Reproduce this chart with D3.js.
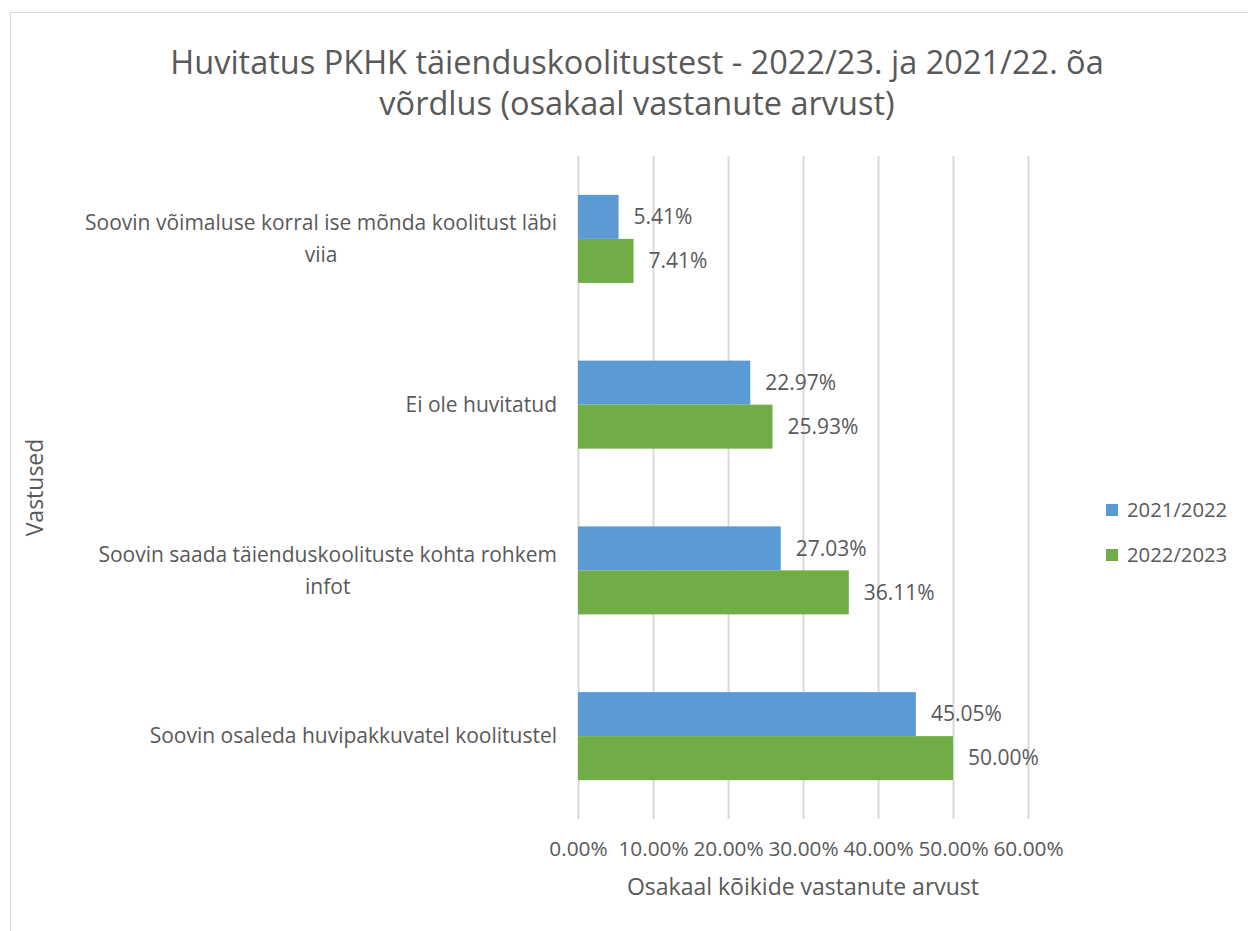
<!DOCTYPE html>
<html>
<head>
<meta charset="utf-8">
<script src="https://cdn.jsdelivr.net/npm/d3@7"></script>
<style>
  body { margin: 0; background: #fff; }
  text { font-family: "Open Sans", sans-serif; fill: #595959; }
</style>
</head>
<body>
<script>
// data
var categories = [
    "Soovin võimaluse korral ise mõnda koolitust läbi viia",
    "Ei ole huvitatud",
    "Soovin saada täienduskoolituste kohta rohkem infot",
    "Soovin osaleda huvipakkuvatel koolitustel"
];
var seriesNames = ["2021/2022", "2022/2023"];
var values2122 = [5.41, 22.97, 27.03, 45.05];
var values2223 = [7.41, 25.93, 36.11, 50.00];
var xTicks = [0, 10, 20, 30, 40, 50, 60];
var colors = ["#5b9bd5", "#70ad47"];

var titleLines = ["Huvitatus PKHK täienduskoolitustest - 2022/23. ja 2021/22. õa", "võrdlus (osakaal vastanute arvust)"];
var xTitle = "Osakaal kõikide vastanute arvust";
var yTitle = "Vastused";

var W = 1248, H = 931;
var plot = { left: 578, right: 1028, top: 156, bottom: 819 };

var svg = d3.select("body").append("svg")
    .attr("width", W)
    .attr("height", H);

// chart border
svg.append("rect")
    .attr("x", 10.5).attr("y", 12.5)
    .attr("width", W).attr("height", H)
    .attr("fill", "none")
    .attr("stroke", "#d9d9d9");

// title
svg.append("text")
    .attr("x", 637).attr("y", 74)
    .attr("text-anchor", "middle")
    .style("font-size", "32.5px")
    .selectAll("tspan")
    .data(titleLines)
    .enter().append("tspan")
    .attr("x", 637)
    .attr("dy", function (d, i) { return i ? 41 : 0; })
    .text(function (d) { return d; });

var xScale = d3.scaleLinear()
    .domain([0, 60])
    .range([plot.left, plot.right]);

var yScale = d3.scaleBand()
    .domain(categories)
    .range([plot.top, plot.bottom])
    .paddingInner(0.469)
    .paddingOuter(0.2345);

var sub = d3.scaleBand()
    .domain(seriesNames)
    .range([0, yScale.bandwidth()]);

// gridlines
svg.append("g")
    .selectAll("line")
    .data(xTicks)
    .enter().append("line")
    .attr("x1", function (d) { return xScale(d) + 0.5; })
    .attr("x2", function (d) { return xScale(d) + 0.5; })
    .attr("y1", plot.top)
    .attr("y2", plot.bottom)
    .attr("stroke", "#d9d9d9")
    .attr("stroke-width", 2);

// x axis tick labels
var xAxis = svg.append("g")
    .attr("transform", "translate(0," + (plot.bottom + 22) + ")")
    .call(d3.axisBottom(xScale).tickValues(xTicks).tickSize(0).tickPadding(0)
        .tickFormat(function (d) { return d.toFixed(2) + "%"; }));
xAxis.select(".domain").remove();
xAxis.selectAll("text")
    .attr("fill", "#595959")
    .style("font-family", "'Open Sans', sans-serif")
    .style("font-size", "20.8px");

// bars
var rows = categories.map(function (c, i) {
    return [
        { cat: c, s: seriesNames[0], v: values2122[i], color: colors[0] },
        { cat: c, s: seriesNames[1], v: values2223[i], color: colors[1] }
    ];
});

var groups = svg.append("g")
    .selectAll("g")
    .data(rows)
    .enter().append("g")
    .attr("transform", function (d) { return "translate(0," + yScale(d[0].cat) + ")"; });

groups.selectAll("rect")
    .data(function (d) { return d; })
    .enter().append("rect")
    .attr("x", xScale(0))
    .attr("y", function (d) { return sub(d.s); })
    .attr("width", function (d) { return xScale(d.v) - xScale(0); })
    .attr("height", sub.bandwidth())
    .attr("fill", function (d) { return d.color; });

groups.selectAll("text")
    .data(function (d) { return d; })
    .enter().append("text")
    .attr("x", function (d) { return xScale(d.v) + 15; })
    .attr("y", function (d) { return sub(d.s) + sub.bandwidth() / 2; })
    .attr("dy", "0.35em")
    .style("font-size", "21px")
    .text(function (d) { return d.v.toFixed(2) + "%"; });

// category labels, wrapped
var labelRight = plot.left - 21;
var maxLabel = 490;
categories.forEach(function (c) {
    var t = svg.append("text")
        .attr("text-anchor", "middle")
        .style("font-size", "21px");
    var words = c.split(" "), lines = [], cur = [];
    var probe = t.append("tspan");
    words.forEach(function (w) {
        cur.push(w);
        probe.text(cur.join(" "));
        if (probe.node().getComputedTextLength() > maxLabel && cur.length > 1) {
            cur.pop();
            lines.push(cur.join(" "));
            cur = [w];
        }
    });
    lines.push(cur.join(" "));
    var widest = 0;
    lines.forEach(function (l) {
        probe.text(l);
        widest = Math.max(widest, probe.node().getComputedTextLength());
    });
    probe.remove();
    var cx = labelRight - widest / 2;
    var cy = yScale(c) + yScale.bandwidth() / 2;
    var lh = 32;
    t.selectAll("tspan")
        .data(lines)
        .enter().append("tspan")
        .attr("x", cx)
        .attr("y", function (d, i) { return cy + (i - (lines.length - 1) / 2) * lh; })
        .attr("dy", "0.35em")
        .text(function (d) { return d; });
});

// axis titles
svg.append("text")
    .attr("x", (plot.left + plot.right) / 2)
    .attr("y", 895)
    .attr("text-anchor", "middle")
    .style("font-size", "23px")
    .text(xTitle);

svg.append("text")
    .attr("transform", "translate(43," + ((plot.top + plot.bottom) / 2) + ") rotate(-90)")
    .attr("text-anchor", "middle")
    .style("font-size", "23px")
    .text(yTitle);

// legend
var legend = svg.append("g")
    .selectAll("g")
    .data(seriesNames)
    .enter().append("g")
    .attr("transform", function (d, i) { return "translate(1106," + (510 + i * 45) + ")"; });
legend.append("rect")
    .attr("x", 0).attr("y", -6)
    .attr("width", 12).attr("height", 12)
    .attr("fill", function (d, i) { return colors[i]; });
legend.append("text")
    .attr("x", 21)
    .attr("dy", "0.35em")
    .style("font-size", "20.3px")
    .text(function (d) { return d; });
</script>
</body>
</html>
